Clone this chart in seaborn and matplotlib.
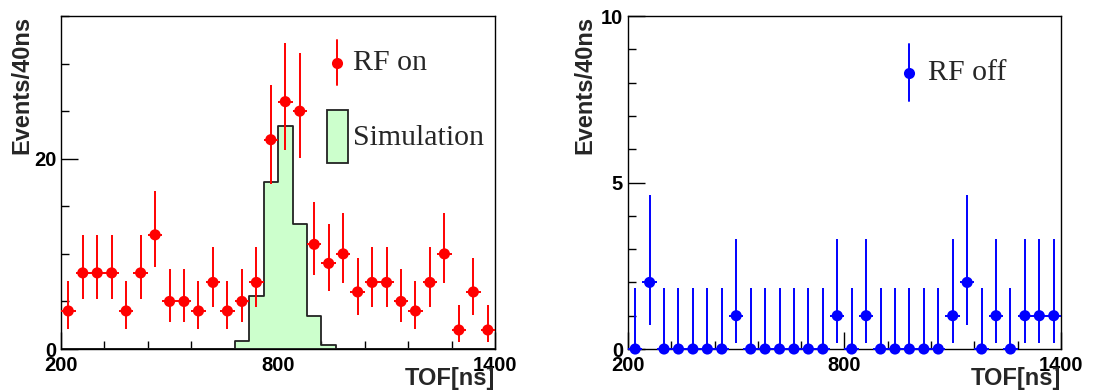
import math
import numpy as np
import pandas as pd
import seaborn as sns
from matplotlib import pyplot as plt
from matplotlib.ticker import MultipleLocator, FixedLocator

# TOF bins: 30 bins of 40 ns between 200 and 1400 ns
bin_edges = list(range(200, 1401, 40))
bin_centers = np.array(bin_edges[:-1]) + 20

rf_on = [4, 8, 8, 8, 4, 8, 12, 5, 5, 4, 7, 4, 5, 7, 22,
         26, 25, 11, 9, 10, 6, 7, 7, 5, 4, 7, 10, 2, 6, 2]
rf_off = [0, 2, 0, 0, 0, 0, 0, 1, 0, 0, 0, 0, 0, 0, 1,
          0, 1, 0, 0, 0, 0, 0, 1, 2, 0, 1, 0, 1, 1, 1]
# scaled simulation, bins 200..1400 (non-zero from 680 to 1000)
simulation = [0, 0, 0, 0, 0, 0, 0, 0, 0, 0, 0, 0, 0.85, 5.6, 17.6,
              23.4, 13.1, 3.5, 0.4, 0.05, 0, 0, 0, 0, 0, 0, 0, 0, 0, 0]

x_major = [200, 800, 1400]


def pois_cdf(k, lam):
    return sum(math.exp(-lam + i * math.log(lam) - math.lgamma(i + 1)) for i in range(k + 1))


def solve(f, target, lo=1e-9, hi=100.):
    # f is decreasing in lam
    for _ in range(100):
        mid = 0.5 * (lo + hi)
        if f(mid) > target:
            lo = mid
        else:
            hi = mid
    return 0.5 * (lo + hi)


def garwood(counts, cl=0.6827):
    # asymmetric poisson errors, as drawn by ROOT
    a = (1 - cl) / 2
    lo_err, hi_err = [], []
    for n in counts:
        low = 0. if n == 0 else solve(lambda l: pois_cdf(n - 1, l), 1 - a)
        up = solve(lambda l: pois_cdf(n, l), a)
        lo_err.append(n - low)
        hi_err.append(up - n)
    return np.array(lo_err), np.array(hi_err)


sns.set_style('ticks')
plt.rcParams['font.family'] = ['Liberation Sans', 'DejaVu Sans']
plt.rcParams['font.weight'] = 'bold'
plt.rcParams['axes.linewidth'] = 1.0

fig = plt.figure(figsize=(10.94, 3.90), dpi=100)
ax1 = fig.add_axes([0.0558, 0.1051, 0.3967, 0.8538])
ax2 = fig.add_axes([0.5740, 0.1051, 0.3958, 0.8538])

green = '#ccffcc'

# left: RF on + simulation
sim_df = pd.DataFrame({'tof': bin_centers, 'sim': simulation})
sns.histplot(data=sim_df, x='tof', weights='sim', bins=bin_edges, element='step',
             fill=True, color=green, alpha=1, edgecolor='#222222', linewidth=1.3, ax=ax1)


def draw_points(ax, counts, color):
    lo, hi = garwood(counts)
    ax.errorbar(bin_centers, counts, xerr=20, yerr=[lo, hi], fmt='none',
                ecolor=color, elinewidth=1.4, clip_on=False, zorder=3)
    sns.scatterplot(x=bin_centers, y=counts, color=color, s=64, edgecolor='none',
                    linewidth=0, ax=ax, zorder=4, clip_on=False)


draw_points(ax1, rf_on, 'red')
draw_points(ax2, rf_off, 'blue')


def style_axes(ax, ymax, ymajor, yminor, ylab_x):
    ax.set_xlim(200, 1400)
    ax.set_ylim(0, ymax)
    ax.xaxis.set_major_locator(FixedLocator(x_major))
    ax.xaxis.set_minor_locator(FixedLocator(np.arange(200, 1401, 120)))
    ax.yaxis.set_major_locator(MultipleLocator(ymajor))
    ax.yaxis.set_minor_locator(MultipleLocator(yminor))
    ax.tick_params(which='both', direction='in', top=False, right=False,
                   width=1.0, labelsize=14.5, colors='black')
    ax.tick_params(which='major', length=12)
    ax.tick_params(which='minor', length=6)
    ax.tick_params(axis='x', pad=5)
    ax.tick_params(axis='y', pad=3.5)
    for s in ax.spines.values():
        s.set_visible(True)
        s.set_color('black')
    ax.set_xlabel('TOF[ns]', fontsize=17, fontweight='bold', loc='right')
    ax.xaxis.set_label_coords(1.0, -0.054)
    ax.set_ylabel('Events/40ns', fontsize=17, fontweight='bold', loc='top')
    ax.yaxis.set_label_coords(ylab_x, 1.0)


style_axes(ax1, 35, 20, 5, -0.064)
style_axes(ax2, 10, 5, 1, -0.074)

# legends
serif = dict(family=['Liberation Serif', 'DejaVu Serif'], fontweight='normal',
             fontsize=21.5, va='center', ha='left')

ax1.plot([0.636, 0.636], [0.794, 0.927], color='red', lw=1.4, transform=ax1.transAxes)
ax1.plot([0.636], [0.86], 'o', color='red', ms=8, mec='none', transform=ax1.transAxes)
ax1.text(0.672, 0.86, 'RF on', transform=ax1.transAxes, **serif)
ax1.add_patch(plt.Rectangle((0.612, 0.558), 0.05, 0.16, facecolor=green,
                            edgecolor='#222222', lw=1.3, transform=ax1.transAxes))
ax1.text(0.672, 0.634, 'Simulation', transform=ax1.transAxes, **serif)

ax2.plot([0.648, 0.648], [0.745, 0.915], color='blue', lw=1.4, transform=ax2.transAxes)
ax2.plot([0.648], [0.829], 'o', color='blue', ms=8, mec='none', transform=ax2.transAxes)
ax2.text(0.692, 0.829, 'RF off', transform=ax2.transAxes, **serif)

plt.savefig('out.png', dpi=100)
